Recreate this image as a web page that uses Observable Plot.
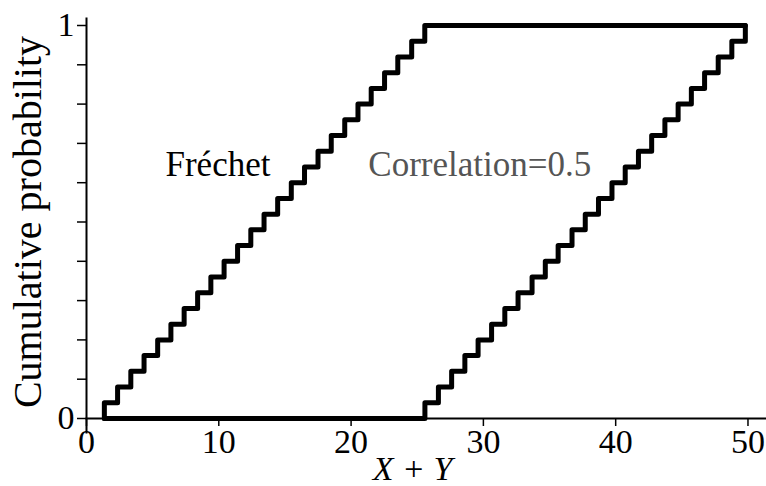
<!DOCTYPE html>
<html><head><meta charset="utf-8">
<script src="https://cdn.jsdelivr.net/npm/d3@7"></script>
<script src="https://cdn.jsdelivr.net/npm/@observablehq/plot@0.6"></script>
<style>html,body{margin:0;padding:0;background:#fff}</style>
</head><body><div id="chart"></div>
<script>
// cumulative probability levels (25 equal steps)
const levels = [0.04,0.08,0.12,0.16,0.20,0.24,0.28,0.32,0.36,0.40,0.44,0.48,0.52,0.56,0.60,0.64,0.68,0.72,0.76,0.80,0.84,0.88,0.92,0.96,1.00];
// jump locations of the Fréchet (upper) bound
const frechetX = [1.35,2.35,3.35,4.35,5.38,6.38,7.38,8.40,9.40,10.40,11.42,12.42,13.42,14.45,15.48,16.48,17.50,18.50,19.52,20.52,21.52,22.53,23.53,24.58,25.57];
// jump locations of the Correlation=0.5 (lower) bound
const corrX = [25.58,26.60,27.60,28.60,29.60,30.62,31.62,32.62,33.68,34.68,35.65,36.70,37.70,38.70,39.72,40.72,41.72,42.72,43.72,44.72,45.72,46.72,47.75,48.78,49.80];
const xTicks = [0,10,20,30,40,50];
const yTicks = [0,0.1,0.2,0.3,0.4,0.5,0.6,0.7,0.8,0.9,1];
const yLabeled = [0,1];
const annotations = [
  {text: "Fréchet", x: 5.97, y: 0.646, color: "#000"},
  {text: "Correlation=0.5", x: 21.3, y: 0.646, color: "#555"}
];

const start = {x: frechetX[0], y: 0};
const frechet = [start, ...frechetX.map((x, i) => ({x, y: levels[i]})), {x: corrX[corrX.length - 1], y: 1}];
const corr = [start, ...corrX.map((x, i) => ({x, y: levels[i]}))];

const serif = "'Times New Roman', 'Liberation Serif', Tinos, 'DejaVu Serif', serif";

const chart = Plot.plot({
  width: 766,
  height: 486,
  marginLeft: 86,
  marginRight: 0,
  marginTop: 25,
  marginBottom: 68,
  style: {fontFamily: serif, fontSize: "34px", color: "#000", background: "#fff"},
  x: {domain: [0, 51.4]},
  y: {domain: [0, 1]},
  marks: [
    Plot.frame({anchor: "bottom", strokeWidth: 2}),
    Plot.frame({anchor: "left", strokeWidth: 2, insetTop: -7, insetBottom: -14}),
    Plot.axisX({ticks: xTicks, tickSize: 8, tickPadding: 2, fontSize: 34, fontFamily: serif, label: null, strokeWidth: 1.5}),
    Plot.axisY({ticks: yTicks, tickSize: 9, tickPadding: 3, fontSize: 34, fontFamily: serif, label: null, strokeWidth: 1.5,
      tickFormat: d => yLabeled.includes(d) ? String(d) : ""}),
    Plot.axisY({ticks: [], label: "Cumulative probability", labelAnchor: "center", labelOffset: 74, labelArrow: "none", fontSize: 40, fontFamily: serif}),
    Plot.text(["X + Y"], {frameAnchor: "bottom", dx: -14, dy: 51, fontSize: 34, fontFamily: serif, fontStyle: "italic", lineAnchor: "middle"}),
    Plot.line(corr, {x: "x", y: "y", curve: "step-after", stroke: "#000", strokeWidth: 5}),
    Plot.line(frechet, {x: "x", y: "y", curve: "step-after", stroke: "#000", strokeWidth: 5}),
    Plot.text(annotations, {x: "x", y: "y", text: "text", fill: "color", textAnchor: "start", fontSize: 35, fontFamily: serif})
  ]
});
document.getElementById("chart").appendChild(chart);
</script>
</body></html>
